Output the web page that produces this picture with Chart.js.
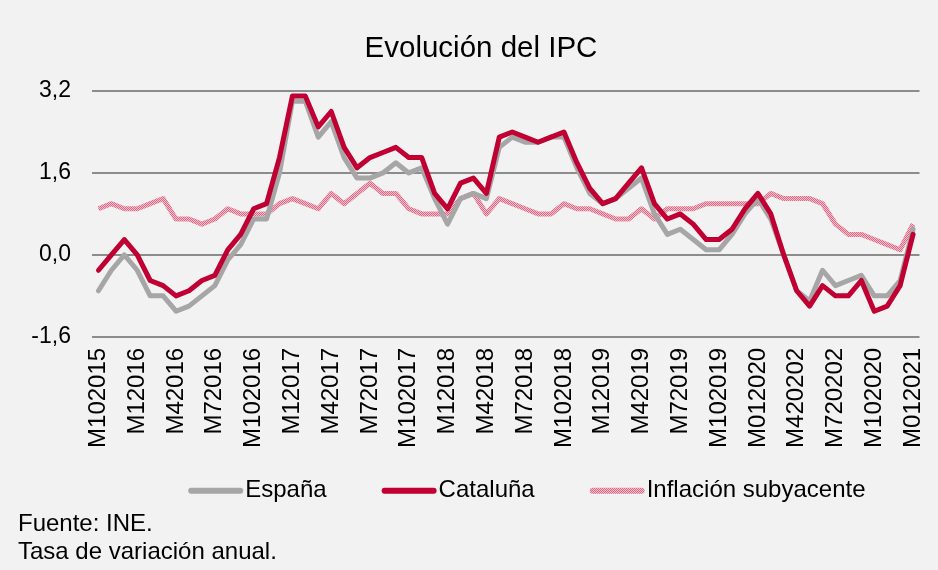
<!DOCTYPE html>
<html>
<head>
<meta charset="utf-8">
<script src="https://cdn.jsdelivr.net/npm/chart.js@4.4.1/dist/chart.umd.min.js"></script>
<style>
html, body { margin: 0; padding: 0; background: #F2F2F2; }
#wrap { position: relative; width: 938px; height: 570px; background: #F2F2F2; }
</style>
</head>
<body>
<div id="wrap"><canvas id="c" width="938" height="570"></canvas></div>
<script>
// ---- Data ----
const categories = [
  'M102015','M112015','M122015',
  'M12016','M22016','M32016','M42016','M52016','M62016','M72016','M82016','M92016','M102016','M112016','M122016',
  'M12017','M22017','M32017','M42017','M52017','M62017','M72017','M82017','M92017','M102017','M112017','M122017',
  'M12018','M22018','M32018','M42018','M52018','M62018','M72018','M82018','M92018','M102018','M112018','M122018',
  'M12019','M22019','M32019','M42019','M52019','M62019','M72019','M82019','M92019','M102019','M112019','M122019',
  'M012020','M022020','M032020','M420202','M520202','M620202','M720202','M820202','M920202','M102020','M112020','M122020',
  'M012021'
];
const espana = [
  -0.7,-0.3,0.0,
  -0.3,-0.8,-0.8,-1.1,-1.0,-0.8,-0.6,-0.1,0.2,0.7,0.7,1.6,
  3.0,3.0,2.3,2.6,1.9,1.5,1.5,1.6,1.8,1.6,1.7,1.1,
  0.6,1.1,1.2,1.1,2.1,2.3,2.2,2.2,2.3,2.3,1.7,1.2,
  1.0,1.1,1.3,1.5,0.8,0.4,0.5,0.3,0.1,0.1,0.4,0.8,
  1.1,0.7,0.0,-0.7,-0.9,-0.3,-0.6,-0.5,-0.4,-0.8,-0.8,-0.5,
  0.5
];
const cataluna = [
  -0.3,0.0,0.3,
  0.0,-0.5,-0.6,-0.8,-0.7,-0.5,-0.4,0.1,0.4,0.9,1.0,1.9,
  3.1,3.1,2.5,2.8,2.1,1.7,1.9,2.0,2.1,1.9,1.9,1.2,
  0.9,1.4,1.5,1.2,2.3,2.4,2.3,2.2,2.3,2.4,1.8,1.3,
  1.0,1.1,1.4,1.7,1.0,0.7,0.8,0.6,0.3,0.3,0.5,0.9,
  1.2,0.8,0.0,-0.7,-1.0,-0.6,-0.8,-0.8,-0.5,-1.1,-1.0,-0.6,
  0.4
];
const subyacente = [
  0.9,1.0,0.9,
  0.9,1.0,1.1,0.7,0.7,0.6,0.7,0.9,0.8,0.8,0.8,1.0,
  1.1,1.0,0.9,1.2,1.0,1.2,1.4,1.2,1.2,0.9,0.8,0.8,
  0.8,1.1,1.2,0.8,1.1,1.0,0.9,0.8,0.8,1.0,0.9,0.9,
  0.8,0.7,0.7,0.9,0.7,0.9,0.9,0.9,1.0,1.0,1.0,1.0,
  1.0,1.2,1.1,1.1,1.1,1.0,0.6,0.4,0.4,0.3,0.2,0.1,
  0.6
];
const yTicks = [-1.6, 0, 1.6, 3.2];
const seriesNames = ['España', 'Cataluña', 'Inflación subyacente'];
const titleText = 'Evolución del IPC';
const notes = ['Fuente: INE.', 'Tasa de variación anual.'];

// ---- Styling ----
const FONT = "'Liberation Sans', Arial, sans-serif";
const canvas = document.getElementById('c');
const ctx = canvas.getContext('2d');

function makePattern() {
  const p = document.createElement('canvas');
  p.width = 2; p.height = 2;
  const px = p.getContext('2d');
  px.fillStyle = '#F2BFCB';
  px.fillRect(0, 0, 2, 2);
  px.fillStyle = '#DB6A86';
  px.fillRect(0, 0, 1, 1);
  px.fillRect(1, 1, 1, 1);
  return ctx.createPattern(p, 'repeat');
}
const pinkPattern = makePattern();

Chart.defaults.font.family = FONT;
Chart.defaults.color = '#000';

// Legend drawn with the chart's own dataset labels and colours
const lineLegend = {
  id: 'lineLegend',
  afterDraw(chart) {
    const c = chart.ctx;
    const area = chart.chartArea;
    const swatch = 55, textGap = 2, itemGap = 55;
    c.save();
    c.font = '24px ' + FONT;
    c.textBaseline = 'middle';
    c.textAlign = 'left';
    const items = chart.data.datasets.map(ds => ({
      label: ds.label, color: ds.borderColor, width: ds.borderWidth + 1,
      tw: c.measureText(ds.label).width
    }));
    let total = 0;
    items.forEach((it, i) => { total += swatch + textGap + it.tw + (i ? itemGap : 0); });
    let x = area.right - 54 - total;
    const y = area.bottom + 154;
    items.forEach(it => {
      c.strokeStyle = it.color;
      c.lineWidth = it.width;
      c.lineCap = 'round';
      c.beginPath();
      c.moveTo(x + 3, y);
      c.lineTo(x + swatch - 3, y);
      c.stroke();
      c.fillStyle = '#000';
      c.fillText(it.label, x + swatch + textGap, y);
      x += swatch + textGap + it.tw + itemGap;
    });
    c.restore();
  }
};

new Chart(ctx, {
  type: 'line',
  data: {
    labels: categories,
    datasets: [
      { label: seriesNames[0], data: espana, borderColor: '#A6A6A6', backgroundColor: '#A6A6A6',
        borderWidth: 5, pointRadius: 0, tension: 0, order: 2,
        borderJoinStyle: 'round', borderCapStyle: 'round' },
      { label: seriesNames[1], data: cataluna, borderColor: '#C00032', backgroundColor: '#C00032',
        borderWidth: 5, pointRadius: 0, tension: 0, order: 1,
        borderJoinStyle: 'round', borderCapStyle: 'round' },
      { label: seriesNames[2], data: subyacente, borderColor: pinkPattern, backgroundColor: pinkPattern,
        borderWidth: 5, pointRadius: 0, tension: 0, order: 3,
        borderJoinStyle: 'round', borderCapStyle: 'butt' }
    ]
  },
  plugins: [lineLegend],
  options: {
    responsive: false,
    animation: false,
    events: [],
    layout: { padding: { top: 21, left: 18, right: -6, bottom: 4 } },
    plugins: {
      tooltip: { enabled: false },
      legend: { display: false },
      title: {
        display: true, text: titleText, color: '#000',
        font: { family: FONT, size: 29.5, weight: 'normal' },
        padding: { top: 10, bottom: 24.6 }
      },
      subtitle: {
        display: true, position: 'bottom', align: 'start', text: notes, color: '#000',
        font: { family: FONT, size: 24, weight: 'normal', lineHeight: 1.17 },
        padding: { top: 61, bottom: 0 }
      }
    },
    scales: {
      x: {
        type: 'category',
        offset: true,
        grid: { display: false },
        border: { display: false },
        afterFit: (s) => { s.height = 112; s.paddingLeft = 0; s.paddingRight = 18.5; },
        ticks: {
          autoSkip: false, minRotation: 90, maxRotation: 90, padding: 3,
          color: '#000', font: { family: FONT, size: 24 },
          callback: function (v, i) { return i % 3 === 0 ? this.getLabelForValue(v) : null; }
        }
      },
      y: {
        min: -1.6, max: 3.2,
        afterBuildTicks: (s) => { s.ticks = yTicks.map(v => ({ value: v })); },
        afterFit: (s) => { s.width = 74; },
        grid: { color: '#8C8C8C', lineWidth: 2, drawTicks: false },
        border: { display: false },
        ticks: {
          padding: 21, color: '#000', font: { family: FONT, size: 23 },
          callback: (v) => Number(v).toFixed(1).replace('.', ',')
        }
      }
    }
  }
});
</script>
</body>
</html>
